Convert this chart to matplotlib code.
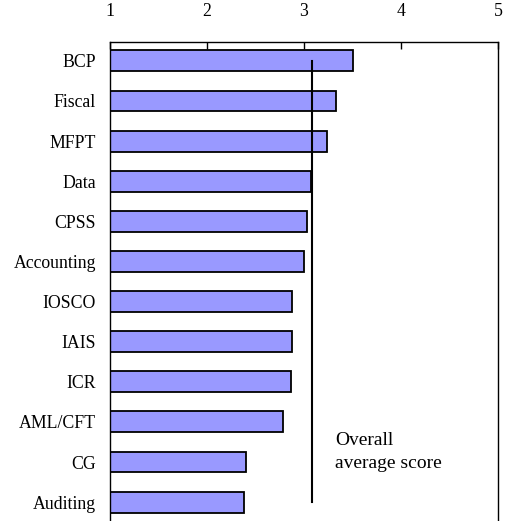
import matplotlib
matplotlib.use("Agg")
import matplotlib.pyplot as plt

# Standards assessed and their average scores
categories = ["BCP", "Fiscal", "MFPT", "Data", "CPSS", "Accounting",
              "IOSCO", "IAIS", "ICR", "AML/CFT", "CG", "Auditing"]
scores = [3.51, 3.33, 3.24, 3.07, 3.03, 3.00, 2.88, 2.88, 2.87, 2.78, 2.40, 2.38]
overall_average = 3.08
x_ticks = [1, 2, 3, 4, 5]

plt.rcParams["font.family"] = ["Liberation Serif", "DejaVu Serif"]
plt.rcParams["font.size"] = 12.8

fig = plt.figure(figsize=(5.05, 5.21), dpi=100)
ax = fig.add_axes([110 / 505, 0.0, 388 / 505, 479 / 521])

ypos = list(range(len(categories)))
ax.barh(ypos, [s - 1 for s in scores], left=1, height=0.52,
        color="#9999FF", edgecolor="black", linewidth=1.3, zorder=2)

# Overall average marker
ax.plot([overall_average, overall_average], [ypos[0], ypos[-1]],
        color="black", linewidth=1.5, zorder=3)
ax.text(3.32, 9.75, "Overall\naverage score", ha="left", va="center",
        linespacing=1.48, fontsize=14)

ax.set_xlim(1, 5)
ax.set_ylim(11.47, -0.47)
ax.set_xticks(x_ticks)
ax.set_xticklabels([str(t) for t in x_ticks])
ax.xaxis.tick_top()
ax.tick_params(axis="x", direction="in", length=5, width=1, pad=15.5,
               top=True, bottom=False)
ax.set_yticks(ypos)
ax.set_yticklabels(categories)
ax.tick_params(axis="y", length=0, pad=10)
for side in ["top", "left", "right"]:
    ax.spines[side].set_linewidth(1)
ax.spines["bottom"].set_visible(False)

fig.savefig("out.png", dpi=100)
